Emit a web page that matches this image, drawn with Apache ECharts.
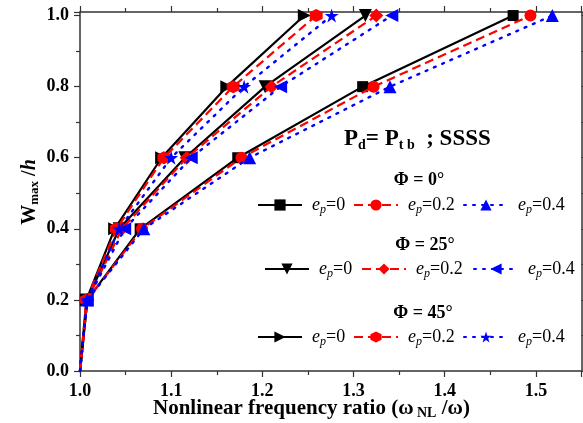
<!DOCTYPE html>
<html><head><meta charset="utf-8">
<script src="https://cdn.jsdelivr.net/npm/echarts@6/dist/echarts.min.js"></script>
<style>html,body{margin:0;padding:0;background:#fff}#c{width:583px;height:423px}</style>
</head><body><div id="c"></div>
<script>
var yVals = [0, 0.2, 0.4, 0.6, 0.8, 1.0];
var phi0_e0  = [1.0, 1.008, 1.066, 1.173, 1.310, 1.475];
var phi0_e02 = [1.0, 1.008, 1.068, 1.177, 1.322, 1.494];
var phi0_e04 = [1.0, 1.008, 1.070, 1.186, 1.340, 1.518];
var phi25_e0  = [1.0, 1.008, 1.043, 1.115, 1.203, 1.313];
var phi25_e02 = [1.0, 1.008, 1.046, 1.117, 1.210, 1.325];
var phi25_e04 = [1.0, 1.008, 1.049, 1.122, 1.220, 1.342];
var phi45_e0  = [1.0, 1.007, 1.038, 1.0895, 1.161, 1.246];
var phi45_e02 = [1.0, 1.007, 1.040, 1.092, 1.168, 1.259];
var phi45_e04 = [1.0, 1.008, 1.043, 1.100, 1.180, 1.276];
var epLabels = ['0', '0.2', '0.4'];
var phiLabels = ['0°', '25°', '45°'];

var FF = 'Liberation Serif, Times New Roman, serif';
var hexPath = 'path://M0,-1 L0.866,-0.5 L0.866,0.5 L0,1 L-0.866,0.5 L-0.866,-0.5 Z';
var starPath = 'path://M0,-1 L0.2245,-0.309 L0.951,-0.309 L0.363,0.118 L0.588,0.809 L0,0.382 L-0.588,0.809 L-0.363,0.118 L-0.951,-0.309 L-0.2245,-0.309 Z';

var styles = [
  {color:'#000000', type:'solid', width:2.2},
  {color:'#ff0000', type:[9,5], width:2.2},
  {color:'#0000ff', type:[2,7], width:2.4}
];
var groups = [
  {data:[phi0_e0, phi0_e02, phi0_e04], sym:[['rect',0,11],['circle',0,12],['triangle',0,13]]},
  {data:[phi25_e0, phi25_e02, phi25_e04], sym:[['triangle',180,13],['diamond',0,14],['triangle',90,13]]},
  {data:[phi45_e0, phi45_e02, phi45_e04], sym:[['triangle',-90,13],[hexPath,0,13],[starPath,0,14]]}
];
var series = [];
var names = [];
groups.forEach(function(g, gi){
  g.data.forEach(function(arr, ei){
    var nm = 'P' + gi + '_' + ei;
    names.push(nm);
    series.push({
      name: nm, type:'line',
      data: arr.map(function(x, i){
        return i === 0 ? {value:[x, yVals[i]], symbol:'none'} : [x, yVals[i]];
      }),
      symbol: g.sym[ei][0], symbolRotate: g.sym[ei][1], symbolSize: g.sym[ei][2],
      showAllSymbol: true,
      lineStyle: {color: styles[ei].color, type: styles[ei].type, width: styles[ei].width, cap: ei===2?'round':'butt'},
      itemStyle: {color: styles[ei].color, borderWidth:0},
      z: 3 + ei,
      animation:false
    });
  });
});

var rows = [202, 266, 334];
var rowLefts = [[252, 348, 458], [259, 356, 468], [252, 348, 458]];
var legends = [];
names.forEach(function(nm, k){
  var gi = Math.floor(k/3), ei = k%3;
  legends.push({
    data:[nm], left: rowLefts[gi][ei], top: rows[gi]-11,
    itemWidth: 44, itemHeight: 14, itemGap: 0,
    formatter: function(){ return '{i|e}{s|p}{n|=' + epLabels[ei] + '}'; },
    textStyle: {
      fontFamily: FF, color:'#000', padding:[0,0,0,5],
      rich: {
        i:{fontFamily:FF, fontStyle:'italic', fontSize:18, color:'#000'},
        s:{fontFamily:FF, fontStyle:'italic', fontSize:12, color:'#000', padding:[9,0,0,0]},
        n:{fontFamily:FF, fontSize:18, color:'#000'}
      }
    },
    selectedMode:false
  });
});

function mkX(pos, labels){
  return {
    type:'value', min:1.0, max:1.55, interval:0.1, position:pos,
    axisLine:{show:true, onZero:false, lineStyle:{color:'#333', width:1.5}},
    axisTick:{show:true, inside:false, length:6, lineStyle:{color:'#333', width:1.2}},
    minorTick:{show:true, splitNumber:2, length:4, lineStyle:{color:'#333', width:1.2}},
    splitLine:{show:false},
    axisLabel: labels ? {fontFamily:FF, fontWeight:'bold', fontSize:18, color:'#000', margin:11, showMaxLabel:false,
      formatter:function(v){ return v.toFixed(1); }} : {show:false}
  };
}
function mkY(pos, labels){
  return {
    type:'value', min:0, max:1.01, interval:0.2, position:pos,
    axisLine:{show:true, onZero:false, lineStyle:{color:'#333', width:1.5}},
    axisTick:{show:true, inside:false, length:6, lineStyle:{color:'#333', width:1.2}},
    minorTick:{show:true, splitNumber:2, length:4, lineStyle:{color:'#333', width:1.2}},
    splitLine:{show:false},
    axisLabel: labels ? {fontFamily:FF, fontWeight:'bold', fontSize:18, color:'#000', margin:11, showMaxLabel:false,
      formatter:function(v){ return v.toFixed(1); }} : {show:false}
  };
}

var option = {
  backgroundColor:'#fff',
  animation:false,
  grid: {left:80, right:1.5, top:12, bottom:52, containLabel:false},
  legend: legends,
  xAxis: [mkX('bottom', true), mkX('top', false)],
  yAxis: [mkY('left', true), mkY('right', false)],
  graphic: [
    {type:'text', left:153, top:398, style:{
      text:'{b|Nonlinear frequency ratio (ω}{s| NL}{b| /ω)}',
      rich:{b:{fontFamily:FF, fontWeight:'bold', fontSize:21, fill:'#000'},
            s:{fontFamily:FF, fontWeight:'bold', fontSize:14, fill:'#000', padding:[9,0,0,0]}}
    }},
    {type:'text', x:30, y:192, rotation:Math.PI/2, style:{
      text:'{b|W}{s|max}{b| /}{h|h}', align:'center', verticalAlign:'middle',
      rich:{b:{fontFamily:FF, fontWeight:'bold', fontSize:20, fill:'#000'},
            s:{fontFamily:FF, fontWeight:'bold', fontSize:13, fill:'#000', padding:[9,0,0,0]},
            h:{fontFamily:FF, fontWeight:'bold', fontStyle:'italic', fontSize:20, fill:'#000'}}
    }},
    {type:'text', left:344, top:128, style:{
      text:'{b|P}{s|d}{b|= P}{s|t b}{b|  ; SSSS}',
      rich:{b:{fontFamily:FF, fontWeight:'bold', fontSize:23, fill:'#000'},
            s:{fontFamily:FF, fontWeight:'bold', fontSize:14, fill:'#000', padding:[11,0,0,0]}}
    }},
    {type:'text', x:419, y:180, style:{text:'Φ = ' + phiLabels[0], font:'bold 18px ' + FF, fill:'#000', align:'center', verticalAlign:'middle'}},
    {type:'text', x:425, y:245, style:{text:'Φ = ' + phiLabels[1], font:'bold 18px ' + FF, fill:'#000', align:'center', verticalAlign:'middle'}},
    {type:'text', x:423, y:313, style:{text:'Φ = ' + phiLabels[2], font:'bold 18px ' + FF, fill:'#000', align:'center', verticalAlign:'middle'}}
  ],
  series: series
};
var chart = echarts.init(document.getElementById('c'), null, {renderer:'canvas'});
chart.setOption(option);
</script>
</body></html>
